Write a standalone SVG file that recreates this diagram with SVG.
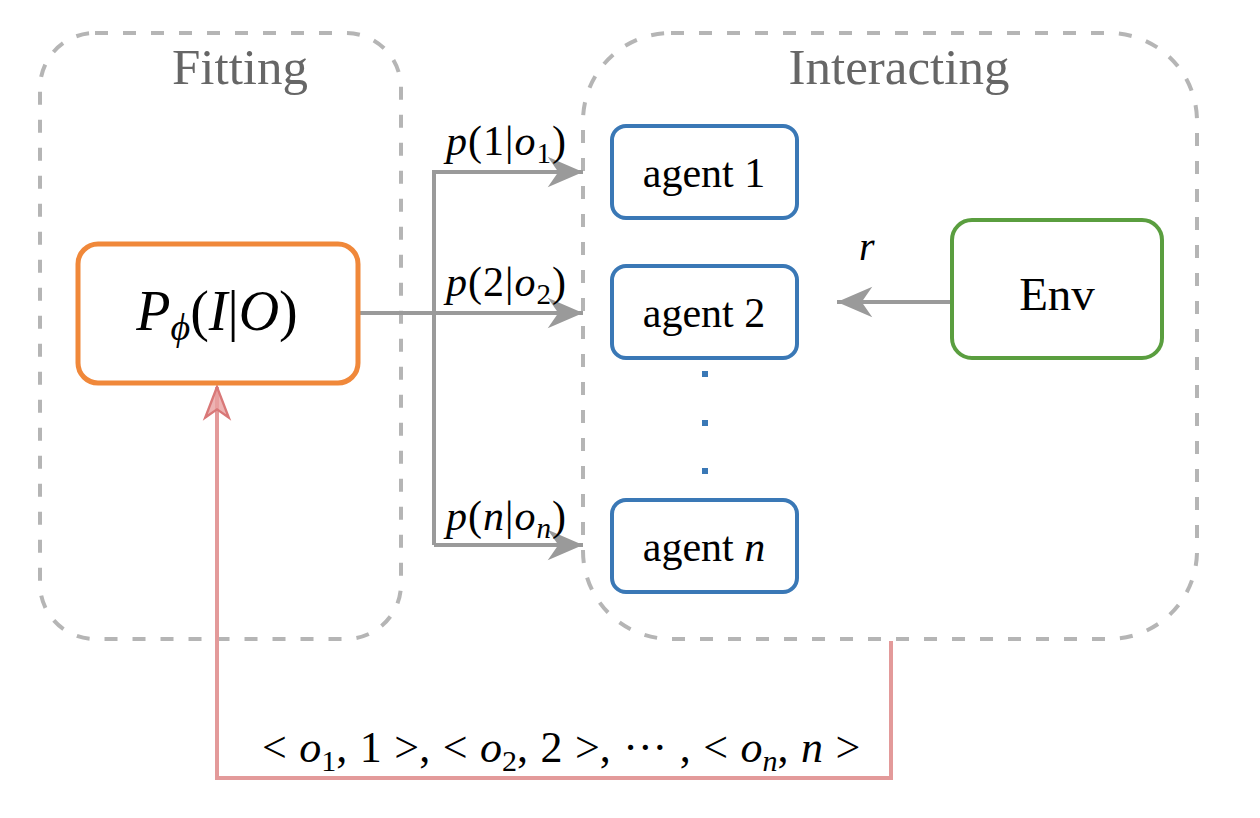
<svg xmlns="http://www.w3.org/2000/svg" width="1260" height="818" viewBox="0 0 1260 818">
<style>
.group{fill:none;stroke:#b5b5b5;stroke-width:4;stroke-dasharray:13 15}
.title{font-family:"Liberation Serif",serif;font-size:51px;fill:#666;text-anchor:middle}
.agent{fill:#fff;stroke:#3a78b6;stroke-width:4}
.t{font-family:"Liberation Serif",serif;fill:#000}
.i{font-style:italic}
.gray{fill:none;stroke:#9a9a9a;stroke-width:4}
.red{fill:none;stroke:#e39a9a;stroke-width:4}
.dot{fill:#3a78b6}
</style>
<defs>
<marker id="ag" markerUnits="userSpaceOnUse" markerWidth="40" markerHeight="40" viewBox="-32 -16 34 32" refX="0" refY="0" orient="auto">
<path d="M0,0 L-30,-13 L-21,0 L-30,13 Z" fill="#9a9a9a"/>
</marker>
<marker id="ar" markerUnits="userSpaceOnUse" markerWidth="40" markerHeight="40" viewBox="-32 -16 34 32" refX="0" refY="0" orient="auto">
<path d="M0,0 L-26,-10 L-19,0 L-26,10 Z" fill="#e8a0a0" stroke="#d97878" stroke-width="2" fill-opacity="0.8"/>
</marker>
</defs>
<g id="fitting">
<rect class="group" x="40" y="33" width="361" height="606" rx="55"/>
<text class="title" x="240" y="84">Fitting</text>
</g>
<g id="interacting">
<rect class="group" x="583" y="33" width="614" height="606" rx="88"/>
<text class="title" x="899" y="84">Interacting</text>
</g>
<g id="connectors">
<polyline class="gray" points="358,313 583,313" marker-end="url(#ag)"/>
<polyline class="gray" points="434,545 434,172 583,172" marker-end="url(#ag)"/>
<polyline class="gray" points="434,545 583,545" marker-end="url(#ag)"/>
<polyline class="gray" points="952,302 837,302" marker-end="url(#ag)"/>
<polyline class="red" points="891,641 891,778 217,778 217,387" marker-end="url(#ar)"/>
<text class="t" font-size="42" x="446" y="155" letter-spacing="1"><tspan class="i">p</tspan>(1|<tspan class="i">o</tspan><tspan font-size="29" dy="8">1</tspan><tspan dy="-8">)</tspan></text>
<text class="t" font-size="42" x="446" y="296" letter-spacing="1"><tspan class="i">p</tspan>(2|<tspan class="i">o</tspan><tspan font-size="29" dy="8">2</tspan><tspan dy="-8">)</tspan></text>
<text class="t" font-size="42" x="446" y="530" letter-spacing="1"><tspan class="i">p</tspan>(<tspan class="i">n</tspan>|<tspan class="i">o</tspan><tspan class="i" font-size="29" dy="8">n</tspan><tspan dy="-8">)</tspan></text>
<text class="t i" font-size="40" x="859" y="260">r</text>
<text class="t" font-size="44" x="262" y="762" word-spacing="1.5"><tspan>&lt; </tspan><tspan class="i">o</tspan><tspan font-size="30" dy="9">1</tspan><tspan dy="-9">, 1 &gt;, &lt; </tspan><tspan class="i">o</tspan><tspan font-size="30" dy="9">2</tspan><tspan dy="-9">, 2 &gt;, ··· , &lt; </tspan><tspan class="i">o</tspan><tspan class="i" font-size="30" dy="9">n</tspan><tspan dy="-9">, </tspan><tspan class="i">n</tspan><tspan> &gt;</tspan></text>
</g>
<g id="policy">
<rect x="78" y="244" width="280" height="139" rx="20" fill="#fff" stroke="#f0883a" stroke-width="5"/>
<text class="t" font-size="56" x="217" y="330" text-anchor="middle"><tspan class="i">P</tspan><tspan class="i" font-size="38" dy="10">ϕ</tspan><tspan dy="-10">(</tspan><tspan class="i">I</tspan>|<tspan class="i">O</tspan>)</text>
</g>
<g id="agent1">
<rect class="agent" x="612" y="126" width="185" height="92" rx="14"/>
<text class="t" font-size="42" x="704" y="187" text-anchor="middle">agent 1</text>
</g>
<g id="agent2">
<rect class="agent" x="612" y="266" width="185" height="92" rx="14"/>
<text class="t" font-size="42" x="704" y="327" text-anchor="middle">agent 2</text>
</g>
<g id="dots">
<rect class="dot" x="702" y="371" width="6" height="6"/>
<rect class="dot" x="702" y="420" width="6" height="6"/>
<rect class="dot" x="702" y="468" width="6" height="6"/>
</g>
<g id="agentn">
<rect class="agent" x="612" y="500" width="185" height="92" rx="14"/>
<text class="t" font-size="42" x="704" y="561" text-anchor="middle">agent <tspan class="i">n</tspan></text>
</g>
<g id="env">
<rect x="952" y="220" width="210" height="138" rx="20" fill="#fff" stroke="#5a9e3f" stroke-width="4"/>
<text class="t" font-size="47" x="1057" y="310" text-anchor="middle">Env</text>
</g>
</svg>
